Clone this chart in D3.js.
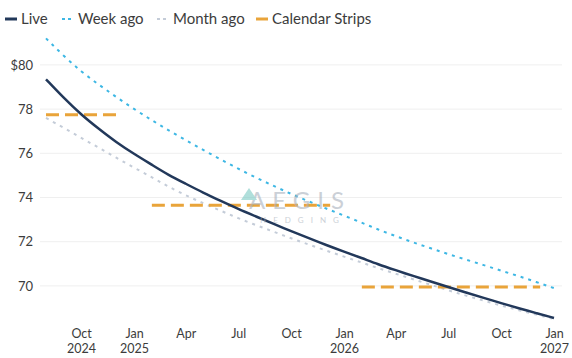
<!DOCTYPE html>
<html>
<head>
<meta charset="utf-8">
<script src="https://cdn.jsdelivr.net/npm/d3@7"></script>
<style>
  html, body { margin: 0; padding: 0; background: #fff; }
  svg { display: block; font-family: Lato, "Open Sans", sans-serif; }
</style>
</head>
<body>
<svg id="chart" width="572" height="358"></svg>
<script>
// Contract months (first of month) for the forward curves
const months = [
  "2024-08","2024-09","2024-10","2024-11","2024-12",
  "2025-01","2025-02","2025-03","2025-04","2025-05","2025-06",
  "2025-07","2025-08","2025-09","2025-10","2025-11","2025-12",
  "2026-01","2026-02","2026-03","2026-04","2026-05","2026-06",
  "2026-07","2026-08","2026-09","2026-10","2026-11","2026-12",
  "2027-01"
];

const liveCurve = [
  79.35, 78.5, 77.75, 77.1, 76.5,
  75.97, 75.48, 75.03, 74.62, 74.22, 73.84,
  73.48, 73.14, 72.8, 72.48, 72.16, 71.85,
  71.55, 71.26, 70.98, 70.71, 70.45, 70.2,
  69.95, 69.7, 69.46, 69.22, 68.99, 68.77,
  68.55
];

const weekAgoCurve = [
  81.2, 80.4, 79.7, 79.1, 78.55,
  78.0, 77.5, 77.05, 76.6, 76.15, 75.72,
  75.3, 74.9, 74.52, 74.16, 73.82, 73.5,
  73.18, 72.86, 72.55, 72.25, 71.97, 71.7,
  71.44, 71.19, 70.94, 70.69, 70.44, 70.18,
  69.9
];

const monthAgoCurve = [
  77.6, 77.15, 76.7, 76.25, 75.8,
  75.35, 74.92, 74.5, 74.1, 73.74, 73.4,
  73.06, 72.75, 72.45, 72.15, 71.87, 71.6,
  71.32, 71.06, 70.8, 70.55, 70.3, 70.05,
  69.8, 69.56, 69.33, 69.11, 68.9, 68.7,
  68.5
];

// Calendar strip averages and the months each strip spans
const stripLabels = ["Cal 2024", "Cal 2025", "Cal 2026"];
const stripStarts = ["2024-08", "2025-02", "2026-02"];
const stripEnds   = ["2024-12", "2025-12", "2026-12"];
const stripValues = [77.75, 73.65, 69.95];

const yTicks = [70, 72, 74, 76, 78, 80];
const xTickMonths = ["2024-10","2025-01","2025-04","2025-07","2025-10",
                     "2026-01","2026-04","2026-07","2026-10","2027-01"];

const legendLabels = ["Live", "Week ago", "Month ago", "Calendar Strips"];

const colors = {
  live: "#22385a",
  week: "#3db7e4",
  month: "#c4ccd8",
  strip: "#e9a43a",
  grid: "#efefef",
  text: "#3c3c3c"
};

const parse = d3.timeParse("%Y-%m");
const svg = d3.select("#chart");

const x = d3.scaleTime()
  .domain([parse("2024-08"), parse("2027-01")])
  .range([46, 554]);

const y = d3.scaleLinear()
  .domain([68, 82])
  .range([330.1, 20.7]);

// Horizontal grid
svg.append("g")
  .selectAll("line")
  .data(yTicks)
  .join("line")
  .attr("x1", 40).attr("x2", 562)
  .attr("y1", d => y(d)).attr("y2", d => y(d))
  .attr("stroke", colors.grid).attr("stroke-width", 1);

// Y axis labels
const yAxis = d3.axisLeft(y)
  .tickValues(yTicks)
  .tickSize(0)
  .tickPadding(0)
  .tickFormat(d => d === 80 ? "$80" : d3.format("d")(d));
svg.append("g")
  .attr("transform", "translate(33,0)")
  .call(yAxis)
  .call(g => g.select(".domain").remove())
  .call(g => g.selectAll("text")
    .attr("fill", colors.text)
    .style("font-family", "Lato, sans-serif")
    .style("font-size", "13px"));

// X axis labels (month, plus year at January and the first tick)
const xAxis = d3.axisBottom(x)
  .tickValues(xTickMonths.map(parse))
  .tickSize(0)
  .tickFormat("");
const xg = svg.append("g")
  .attr("transform", "translate(0,326)")
  .call(xAxis)
  .call(g => g.select(".domain").remove())
  .call(g => g.selectAll(".tick text").remove());
xg.selectAll(".tick").each(function(d, i) {
  const t = d3.select(this);
  const style = s => s
    .attr("text-anchor", "middle")
    .attr("fill", colors.text)
    .style("font-family", "Lato, sans-serif")
    .style("font-size", "12.5px");
  t.append("text").attr("x", 0).attr("y", 11.5)
    .call(style).text(d3.timeFormat("%b")(d));
  if (d.getMonth() === 0 || i === 0) {
    t.append("text").attr("x", 0).attr("y", 27)
      .call(style).text(d3.timeFormat("%Y")(d));
  }
});

const line = d3.line()
  .x(d => x(d.date))
  .y(d => y(d.value))
  .curve(d3.curveBasis);

const series = (vals) => months.map((m, i) => ({ date: parse(m), value: vals[i] }));

// Month-ago curve
svg.append("path")
  .datum(series(monthAgoCurve))
  .attr("d", line)
  .attr("fill", "none")
  .attr("stroke", colors.month)
  .attr("stroke-width", 2)
  .attr("stroke-dasharray", "3,5");

// Week-ago curve
svg.append("path")
  .datum(series(weekAgoCurve))
  .attr("d", line)
  .attr("fill", "none")
  .attr("stroke", colors.week)
  .attr("stroke-width", 2)
  .attr("stroke-dasharray", "3,5");

// Calendar strips
svg.append("g")
  .selectAll("line")
  .data(stripLabels.map((l, i) => ({
    label: l, start: parse(stripStarts[i]), end: parse(stripEnds[i]), value: stripValues[i]
  })))
  .join("line")
  .attr("x1", d => x(d.start)).attr("x2", d => x(d.end) + 4)
  .attr("y1", d => y(d.value)).attr("y2", d => y(d.value))
  .attr("stroke", colors.strip)
  .attr("stroke-width", 3)
  .attr("stroke-dasharray", "13,6");

// Live curve
svg.append("path")
  .datum(series(liveCurve))
  .attr("d", line)
  .attr("fill", "none")
  .attr("stroke", colors.live)
  .attr("stroke-width", 2.5);

// Watermark, drawn translucent over the plot
const wm = svg.append("g").attr("opacity", 0.6);
wm.append("text")
  .attr("x", 300).attr("y", 209)
  .attr("text-anchor", "middle")
  .attr("fill", "#aab2bd")
  .style("font-family", "Lato, sans-serif")
  .style("font-size", "24px")
  .style("letter-spacing", "7px")
  .text("AEGIS");
wm.append("path")
  .attr("d", "M241,200 L249,188 L257,200 Z")
  .attr("fill", "#7ccac4");
wm.append("text")
  .attr("x", 303).attr("y", 223)
  .attr("text-anchor", "middle")
  .attr("fill", "#aab2bd")
  .style("font-family", "Lato, sans-serif")
  .style("font-size", "8px")
  .style("letter-spacing", "7px")
  .text("HEDGING");

// Legend
const legendX = [5, 62, 157, 256];
const legendStyle = [
  { color: colors.live, dash: null, w: 3 },
  { color: colors.week, dash: "3,3", w: 2 },
  { color: colors.month, dash: "3,3", w: 2 },
  { color: colors.strip, dash: null, w: 3 }
];
const legend = svg.append("g").attr("transform", "translate(0,19)");
legendLabels.forEach((lab, i) => {
  const g = legend.append("g").attr("transform", `translate(${legendX[i]},0)`);
  g.append("line")
    .attr("x1", 0).attr("x2", 12).attr("y1", 0).attr("y2", 0)
    .attr("stroke", legendStyle[i].color)
    .attr("stroke-width", legendStyle[i].w)
    .attr("stroke-dasharray", legendStyle[i].dash);
  g.append("text")
    .attr("x", 16).attr("y", 5)
    .attr("fill", colors.text)
    .style("font-family", "Lato, sans-serif")
    .style("font-size", "15px")
    .text(lab);
});
</script>
</body>
</html>
